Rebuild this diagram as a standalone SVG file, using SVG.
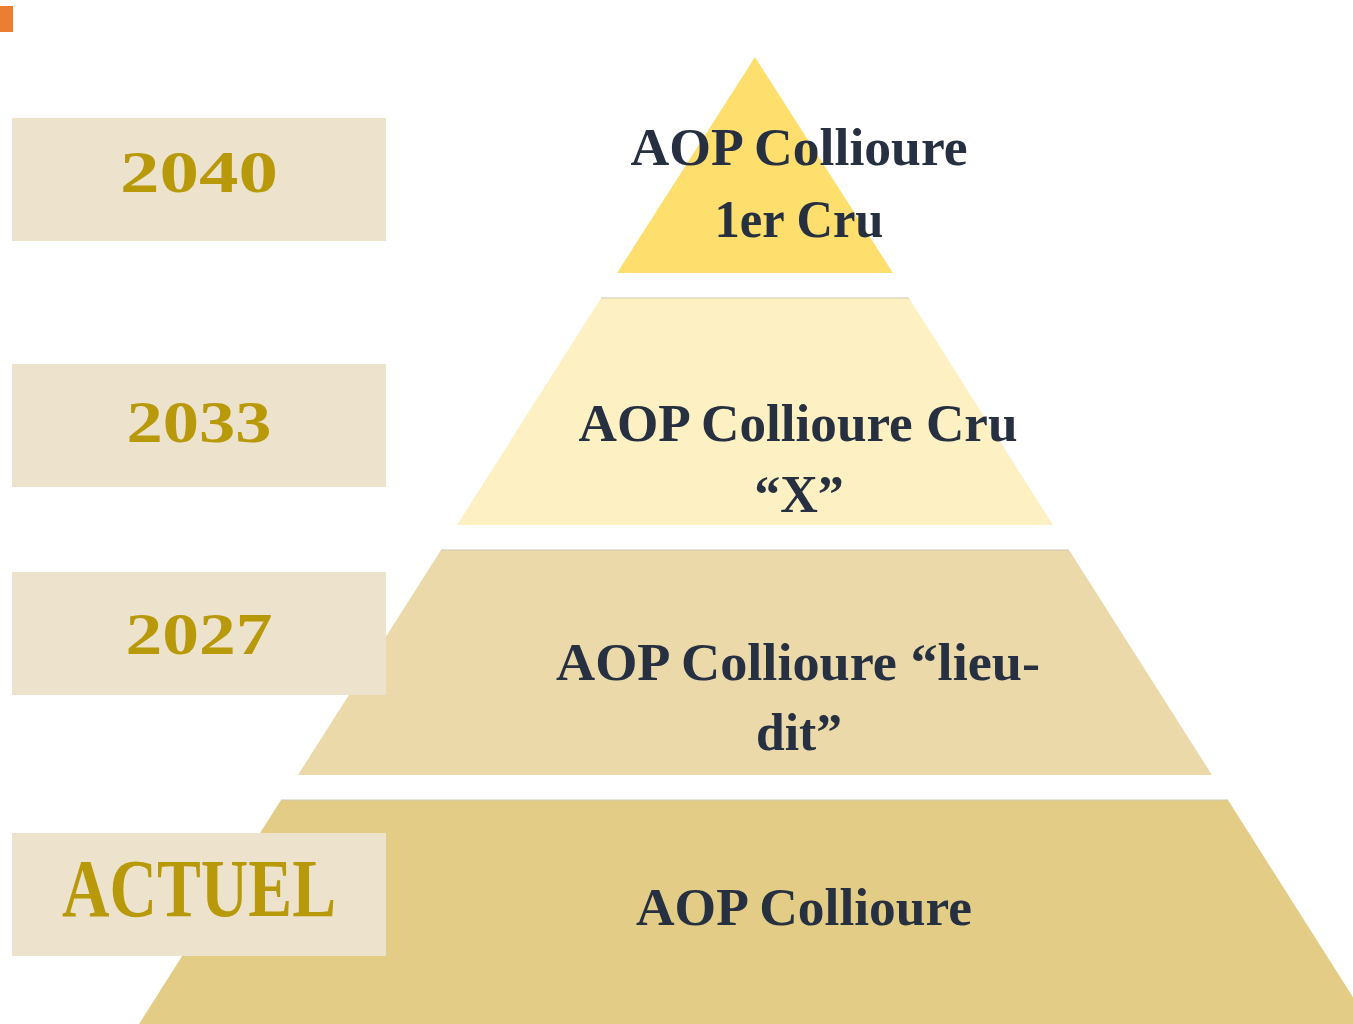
<svg xmlns="http://www.w3.org/2000/svg" width="1353" height="1024" viewBox="0 0 1353 1024">
<style>
.lvl{font-family:"Liberation Serif","DejaVu Serif",serif;font-weight:bold;font-size:52px;fill:#263040;text-anchor:middle}
.yr{font-family:"Liberation Serif","DejaVu Serif",serif;font-weight:bold;fill:#B8990A;text-anchor:middle}
.box{fill:#EDE2CB}
.edge{stroke:#cfc7b3;stroke-width:1.2}
</style>
<rect width="1353" height="1024" fill="#ffffff"/>
<rect x="0" y="6" width="13" height="26" fill="#ED7D31"/>
<g id="pyramid">
  <g id="level1"><polygon points="755,57 893,273 617,273" fill="#FEDF6E"/></g>
  <g id="level2"><polygon points="601,298 909,298 1053,525 457,525" fill="#FDF1C3"/><line class="edge" x1="601" y1="298" x2="909" y2="298"/></g>
  <g id="level3"><polygon points="441,550 1069,550 1212,775 298,775" fill="#EBD9A9"/><line class="edge" x1="441" y1="550" x2="1069" y2="550"/></g>
  <g id="level4"><polygon points="281,800 1228,800 1370,1024 139,1024" fill="#E3CD86"/><line class="edge" x1="281" y1="800" x2="1228" y2="800"/></g>
</g>
<g id="years">
  <g id="y2040"><rect class="box" x="12" y="118" width="374" height="123"/><text class="yr" x="199" y="192" font-size="60" textLength="158" lengthAdjust="spacingAndGlyphs">2040</text></g>
  <g id="y2033"><rect class="box" x="12" y="364" width="374" height="123"/><text class="yr" x="199" y="442" font-size="60" textLength="145" lengthAdjust="spacingAndGlyphs">2033</text></g>
  <g id="y2027"><rect class="box" x="12" y="572" width="374" height="123"/><text class="yr" x="199" y="654" font-size="60" textLength="147" lengthAdjust="spacingAndGlyphs">2027</text></g>
  <g id="yActuel"><rect class="box" x="12" y="833" width="374" height="123"/><text class="yr" x="199" y="916" font-size="82" textLength="274" lengthAdjust="spacingAndGlyphs">ACTUEL</text></g>
</g>
<g id="labels">
  <text class="lvl" x="799" y="165" textLength="337" lengthAdjust="spacingAndGlyphs">AOP Collioure</text>
  <text class="lvl" x="799" y="237" textLength="169" lengthAdjust="spacingAndGlyphs">1er Cru</text>
  <text class="lvl" x="798" y="441" textLength="439" lengthAdjust="spacingAndGlyphs">AOP Collioure Cru</text>
  <text class="lvl" x="799" y="512">“X”</text>
  <text class="lvl" x="798" y="680" textLength="484" lengthAdjust="spacingAndGlyphs">AOP Collioure “lieu-</text>
  <text class="lvl" x="799" y="750" textLength="86" lengthAdjust="spacingAndGlyphs">dit”</text>
  <text class="lvl" x="804" y="925" textLength="336" lengthAdjust="spacingAndGlyphs">AOP Collioure</text>
</g>
</svg>
